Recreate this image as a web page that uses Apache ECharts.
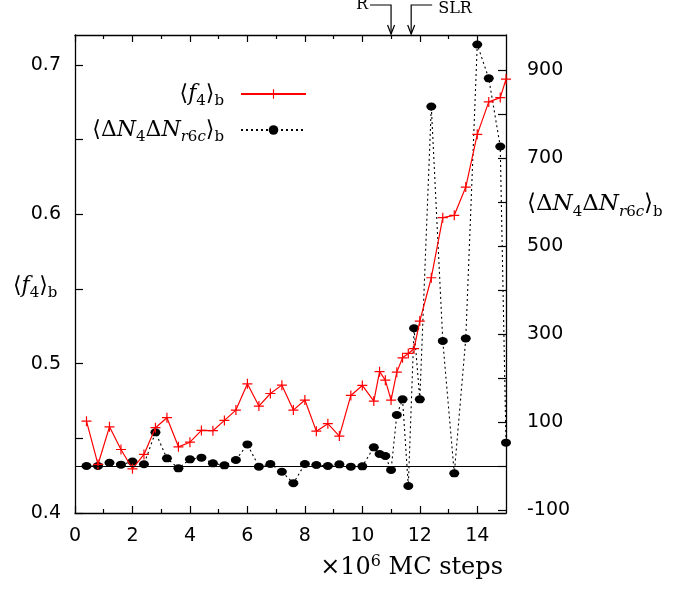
<!DOCTYPE html>
<html>
<head>
<meta charset="utf-8">
<script src="https://cdn.jsdelivr.net/npm/echarts@6/dist/echarts.min.js"></script>
<style>
  html, body { margin: 0; padding: 0; background: #fff; }
  #chart { width: 675px; height: 592px; }
</style>
</head>
<body>
<div id="chart"></div>
<script>
// Monte Carlo time (units of 10^6 MC steps)
const mcSteps = [
  0.4, 0.8, 1.2, 1.6, 2.0, 2.4, 2.8, 3.2, 3.6, 4.0,
  4.4, 4.8, 5.2, 5.6, 6.0, 6.4, 6.8, 7.2, 7.6, 8.0,
  8.4, 8.8, 9.2, 9.6, 10.0, 10.4, 10.6, 10.8, 11.0, 11.2,
  11.4, 11.6, 11.8, 12.0, 12.4, 12.8, 13.2, 13.6, 14.0, 14.4,
  14.8, 15.0
];
// <f4>_b  (left axis)
const f4Values = [
  0.4615, 0.4325, 0.4577, 0.4425, 0.4296, 0.4392, 0.4571, 0.4638, 0.4443, 0.4474,
  0.4553, 0.4551, 0.4620, 0.4689, 0.4865, 0.4716, 0.4800, 0.4856, 0.4689, 0.4756,
  0.4548, 0.4598, 0.4515, 0.4787, 0.4854, 0.4749, 0.4946, 0.4889, 0.4756, 0.4943,
  0.5039, 0.5068, 0.5100, 0.5285, 0.5575, 0.5977, 0.5993, 0.6182, 0.6535, 0.6752,
  0.6781, 0.6904
];
// <dN4 dNr6c>_b  (right axis)
const corrValues = [
  0, 0, 7.5, 3, 10, 4, 76.5, 17.4, -5.3, 15.2,
  18.9, 6, 1.5, 13.6, 49, -1.5, 4.5, -13, -39, 4.5,
  2.3, 0, 3.8, -1.5, -0.8, 42.4, 27.3, 22.7, -9, 116,
  151.5, -45.5, 313, 151.5, 817, 284, -16.7, 290, 958, 881,
  726, 53
];

// Axis ranges, ticks and labels
const xRange = [0, 15];
const leftRange = [0.4, 0.72];
const rightRange = [-106.8, 979.5];
const xMajorTicks = [0, 2, 4, 6, 8, 10, 12, 14];
const xMinorTicks = [1, 3, 5, 7, 9, 11, 13];
const leftTicks = [0.4, 0.45, 0.5, 0.55, 0.6, 0.65, 0.7];
const leftLabels = [0.4, 0.5, 0.6, 0.7];
const rightTicks = [-100, 0, 100, 200, 300, 400, 500, 600, 700, 800, 900];
const rightLabels = [-100, 100, 300, 500, 700, 900];

// Transition markers along the top axis
const eventSteps = [11.0, 11.7];
const eventNames = ['R', 'SLR'];

const NAME_F4 = 'f4';
const NAME_CORR = 'corr';

const SANS = '"DejaVu Sans", sans-serif';
const SERIF = '"DejaVu Serif", serif';

function mathRich(size, sub) {
  const base = { fontFamily: SERIF, fontSize: size, lineHeight: 32, verticalAlign: 'middle', color: '#000' };
  const subPad = Math.round(size * 0.68);
  return {
    n: base,
    i: Object.assign({}, base, { fontStyle: 'italic' }),
    s: Object.assign({}, base, { fontSize: sub, padding: [subPad, 0, 0, 0] }),
    si: Object.assign({}, base, { fontSize: sub, fontStyle: 'italic', padding: [subPad, 0, 0, 0] }),
    p: Object.assign({}, base, { fontSize: sub, padding: [0, 0, 12, 0] }),
    sp: Object.assign({}, base, { width: 12 })
  };
}

const F4_TEXT = '{n|⟨}{i|f}{s|4}{n|⟩}{s|b}';
const CORR_TEXT = '{n|⟨Δ}{i|N}{s|4}{n|Δ}{i|N}{si|r}{s|6}{si|c}{n|⟩}{s|b}';
const XTITLE_TEXT = '{n|×10}{p|6}{n| MC steps}';

const plusSymbol = 'path://M0,4.4H10V5.6H0Z M4.4,0H5.6V10H4.4Z';

const GRID = { left: 75, right: 169, top: 35, bottom: 79 };
const GRID_W = 675 - GRID.left - GRID.right;
const GRID_H = 592 - GRID.top - GRID.bottom;

const chart = echarts.init(document.getElementById('chart'));

const axisLineStyle = { color: '#000', width: 1.3 };
const tickLine = { color: '#000', width: 1.2 };
const tickLabel = { color: '#000', fontFamily: SANS, fontSize: 19 };

// Frame axes: line + labels only
function frameAxis(extra) {
  return Object.assign({
    type: 'value',
    axisLine: { show: true, onZero: false, lineStyle: axisLineStyle },
    axisTick: { show: false },
    axisLabel: { show: false },
    splitLine: { show: false }
  }, extra);
}
// Tick-only axes placed on the opposite edge so their ticks point into the plot
function tickAxis(position, offset, range, len, values) {
  return {
    type: 'value', position: position, offset: offset, min: range[0], max: range[1],
    axisLine: { show: false, onZero: false },
    axisTick: { show: true, length: len, customValues: values, lineStyle: tickLine },
    axisLabel: { show: false },
    splitLine: { show: false }
  };
}

function legendFor(name, text, top) {
  return {
    data: [name],
    orient: 'vertical',
    align: 'right',
    right: 368,
    top: top,
    padding: 0,
    itemWidth: 65,
    itemHeight: 12,
    selectedMode: false,
    formatter: () => text + '{sp| }',
    textStyle: { rich: mathRich(22, 15) }
  };
}

chart.setOption({
  animation: false,
  grid: GRID,
  legend: [
    legendFor(NAME_F4, F4_TEXT, 79),
    legendFor(NAME_CORR, CORR_TEXT, 115)
  ],
  xAxis: [
    frameAxis({
      position: 'bottom', min: xRange[0], max: xRange[1],
      axisLabel: Object.assign({ show: true, margin: 14, customValues: xMajorTicks }, tickLabel)
    }),
    frameAxis({ position: 'top', min: xRange[0], max: xRange[1] }),
    tickAxis('top', -GRID_H, xRange, 7, xMajorTicks),
    tickAxis('top', -GRID_H, xRange, 4, xMinorTicks),
    tickAxis('bottom', -GRID_H, xRange, 7, xMajorTicks),
    tickAxis('bottom', -GRID_H, xRange, 4, xMinorTicks)
  ],
  yAxis: [
    frameAxis({
      position: 'left', min: leftRange[0], max: leftRange[1],
      axisLabel: Object.assign({ show: true, margin: 14, customValues: leftLabels, formatter: v => v.toFixed(1) }, tickLabel)
    }),
    frameAxis({
      position: 'right', min: rightRange[0], max: rightRange[1],
      axisLabel: Object.assign({ show: true, margin: 21, customValues: rightLabels, formatter: v => String(v) }, tickLabel)
    }),
    tickAxis('right', -GRID_W, leftRange, 8, leftTicks),
    tickAxis('left', -GRID_W, rightRange, 8, rightTicks)
  ],
  series: [
    {
      name: NAME_F4,
      type: 'line',
      xAxisIndex: 0,
      yAxisIndex: 0,
      z: 4,
      data: mcSteps.map((x, i) => [x, f4Values[i]]),
      symbol: plusSymbol,
      symbolSize: 10,
      itemStyle: { color: '#ff0000' },
      lineStyle: { color: '#ff0000', width: 1.2 },
      emphasis: { disabled: true }
    },
    {
      name: NAME_CORR,
      type: 'line',
      xAxisIndex: 0,
      yAxisIndex: 1,
      z: 3,
      data: mcSteps.map((x, i) => [x, corrValues[i]]),
      symbol: 'circle',
      symbolSize: [10, 8],
      itemStyle: { color: '#000' },
      lineStyle: { color: '#000', width: 1.1, type: [2, 3] },
      emphasis: { disabled: true },
      markLine: {
        silent: true,
        symbol: 'none',
        label: { show: false },
        lineStyle: { color: '#000', type: 'solid', width: 1.2 },
        emphasis: { disabled: true },
        data: [{ yAxis: 0 }]
      }
    }
  ]
});

// Titles and transition arrows
const gridTop = GRID.top;
const graphics = [
  {
    type: 'text', left: 13, top: 287 - 16, silent: true,
    style: { text: F4_TEXT, rich: mathRich(22, 15) }
  },
  {
    type: 'text', left: 527, top: 205 - 16, silent: true,
    style: { text: CORR_TEXT, rich: mathRich(23, 15) }
  },
  {
    type: 'text', right: 675 - 503, top: 570 - 16, silent: true,
    style: { text: XTITLE_TEXT, rich: mathRich(24, 16) }
  }
];

eventSteps.forEach((step, k) => {
  const px = chart.convertToPixel({ xAxisIndex: 0 }, step);
  const dir = k === 0 ? -1 : 1;
  graphics.push({
    type: 'polyline', silent: true,
    shape: { points: [[px + dir * 21, 5], [px, 5], [px, gridTop - 1]] },
    style: { stroke: '#000', lineWidth: 1.2, fill: null }
  });
  graphics.push({
    type: 'polyline', silent: true,
    shape: { points: [[px - 3.5, gridTop - 10], [px, gridTop - 1], [px + 3.5, gridTop - 10]] },
    style: { stroke: '#000', lineWidth: 1.2, fill: null }
  });
  graphics.push({
    type: 'text', silent: true,
    style: {
      text: eventNames[k],
      x: k === 0 ? px - 23 : px + 27,
      y: k === 0 ? 5 : 8.5,
      align: k === 0 ? 'right' : 'left',
      verticalAlign: 'middle',
      fontFamily: SERIF,
      fontSize: 16,
      fill: '#000'
    }
  });
});

chart.setOption({ graphic: graphics });
</script>
</body>
</html>
